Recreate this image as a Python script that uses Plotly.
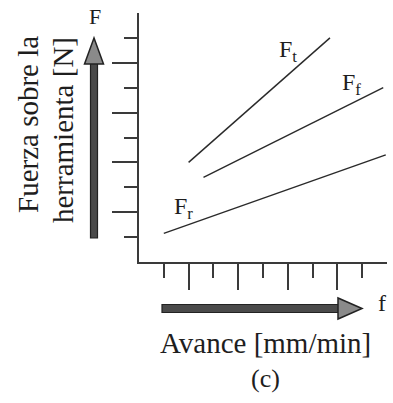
import plotly.graph_objects as go

# ---- data (arbitrary units: one unit = one tick step) ----
ft_x = [2.0, 7.7]
ft_y = [4.0, 9.0]
ff_x = [2.6, 9.85]
ff_y = [3.4, 7.0]
fr_x = [1.0, 9.95]
fr_y = [1.15, 4.3]

x_major = [2, 4, 6, 8]
x_minor = [1, 3, 5, 7, 9]
y_major = [2, 4, 6, 8]
y_minor = [1, 3, 5, 7, 9]

W, H = 393, 403
ML, MR, MT, MB = 139, 6, 13, 141
PW, PH = W - ML - MR, H - MT - MB

def px(x):
    return (x - ML) / PW

def py(y):
    return (H - MB - y) / PH

FONT = "Liberation Serif, Times New Roman, serif"
INK = "#1e1e1e"

fig = go.Figure()
for xs, ys in [(ft_x, ft_y), (ff_x, ff_y), (fr_x, fr_y)]:
    fig.add_trace(go.Scatter(x=xs, y=ys, mode="lines",
                             line=dict(color="#2a2a2a", width=1.4),
                             showlegend=False, hoverinfo="skip"))

axis_common = dict(showgrid=False, zeroline=False, showline=True,
                   linecolor="#3a3a3a", linewidth=2, showticklabels=False,
                   ticks="outside", tickmode="array", tickcolor="#3a3a3a",
                   tickwidth=1.6, fixedrange=True)

fig.update_xaxes(range=[0, 10], tickvals=x_major, ticklen=26,
                 minor=dict(tickmode="array", tickvals=x_minor, ticks="outside",
                            ticklen=14, tickcolor="#3a3a3a", tickwidth=1.6),
                 **axis_common)
fig.update_yaxes(range=[0, 10], tickvals=y_major, ticklen=25,
                 minor=dict(tickmode="array", tickvals=y_minor, ticks="outside",
                            ticklen=13, tickcolor="#3a3a3a", tickwidth=1.6),
                 **axis_common)

shapes = []
# vertical big arrow
shapes.append(dict(type="rect", xref="paper", yref="paper",
                   x0=px(90.5), x1=px(97.5), y0=py(238), y1=py(62),
                   fillcolor="#4a4a4a", line=dict(color="#222", width=1.2), layer="above"))
shapes.append(dict(type="path", xref="paper", yref="paper",
                   path=f"M {px(94)} {py(38)} L {px(84.5)} {py(64)} L {px(103.5)} {py(64)} Z",
                   fillcolor="#8a8a8a", line=dict(color="#222", width=1.5), layer="above"))
# horizontal big arrow
shapes.append(dict(type="rect", xref="paper", yref="paper",
                   x0=px(162), x1=px(340), y0=py(312.5), y1=py(304.5),
                   fillcolor="#4a4a4a", line=dict(color="#222", width=1.2), layer="above"))
shapes.append(dict(type="path", xref="paper", yref="paper",
                   path=f"M {px(362)} {py(308.5)} L {px(338)} {py(298)} L {px(338)} {py(319)} Z",
                   fillcolor="#8a8a8a", line=dict(color="#222", width=1.5), layer="above"))

annos = []
def txt(text, x, y, size, angle=0):
    annos.append(dict(text=text, x=px(x), y=py(y), xref="paper", yref="paper",
                      showarrow=False, textangle=angle,
                      font=dict(family=FONT, size=size, color=INK),
                      xanchor="center", yanchor="middle"))

txt("F", 95, 17, 22)
txt("f", 382, 303, 24)
txt("F<sub>t</sub>", 288, 51, 24)
txt("F<sub>f</sub>", 351, 84, 24)
txt("F<sub>r</sub>", 183, 208, 24)
txt("Fuerza sobre la", 28, 125, 29, -90)
txt("herramienta [N]", 63, 130, 29, -90)
txt("Avance [mm/min]", 265, 343, 29)
txt("(c)", 265, 378, 26)

fig.update_layout(width=W, height=H, margin=dict(l=ML, r=MR, t=MT, b=MB),
                  paper_bgcolor="white", plot_bgcolor="white",
                  shapes=shapes, annotations=annos, showlegend=False)

fig.write_html("out.html", config={"displayModeBar": False},
               post_script="document.body.style.margin='0';document.body.style.overflow='hidden';")
